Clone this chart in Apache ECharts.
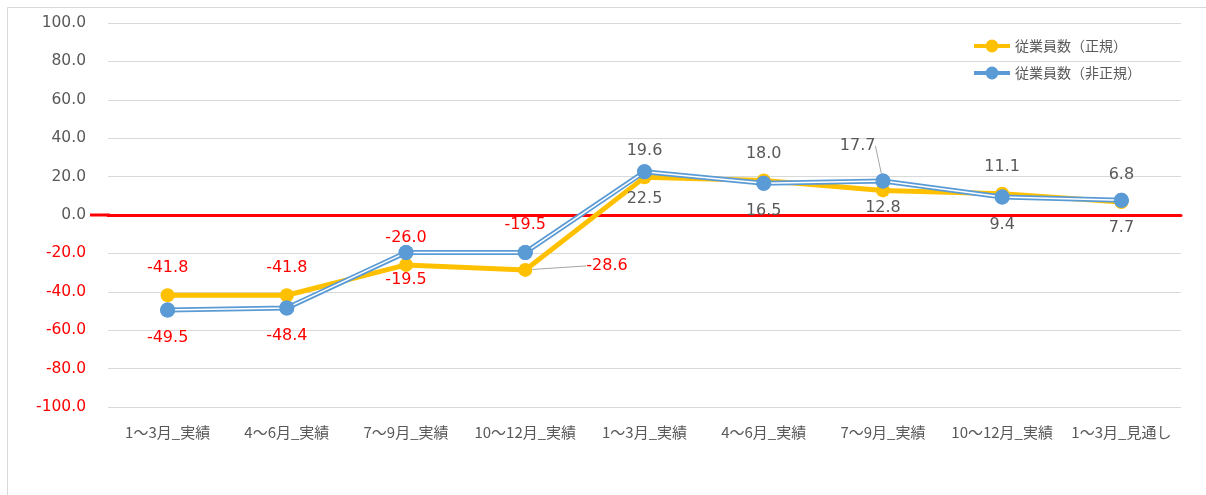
<!DOCTYPE html>
<html><head><meta charset="utf-8">
<script src="https://cdn.jsdelivr.net/npm/echarts@6/dist/echarts.min.js"></script>
<style>html,body{margin:0;padding:0;background:#fff}#c{width:1206px;height:495px}</style>
</head><body><div id="c"></div>
<script>
const categories = ['1～3月_実績','4～6月_実績','7～9月_実績','10～12月_実績','1～3月_実績','4～6月_実績','7～9月_実績','10～12月_実績','1～3月_見通し'];
const regularName = '従業員数（正規）';
const nonRegularName = '従業員数（非正規）';
const regular = [-41.8, -41.8, -26.0, -28.6, 19.6, 18.0, 12.8, 11.1, 6.8];
const nonRegular = [-49.5, -48.4, -19.5, -19.5, 22.5, 16.5, 17.7, 9.4, 7.7];
const yTicks = {min: -100, max: 100, interval: 20};

const FONT = '"Noto Sans CJK JP", "Noto Sans", sans-serif';
const NUMFONT = '"DejaVu Sans", sans-serif';
const RED = '#FF0000', GRAY = '#595959';
// label placement overrides (style only)
const regPos = ['top','top','top','right','top','top','bottom','top','top'];
const nonPos = ['bottom','bottom','bottom','top','bottom','bottom','left','bottom','bottom'];
const regLeader = 3, nonLeader = 6;

function items(vals, pos, leaderIdx) {
  return vals.map((v, i) => ({
    value: v,
    label: {position: pos[i], color: v < 0 ? RED : GRAY},
    labelLine: {show: i === leaderIdx}
  }));
}

const chart = echarts.init(document.getElementById('c'), null, {renderer: 'canvas'});
chart.setOption({
  animation: false,
  backgroundColor: '#fff',
  graphic: [{
    type: 'rect', shape: {x: 7.5, y: 7.5, width: 1240, height: 520},
    style: {fill: 'none', stroke: '#D9D9D9', lineWidth: 1}, silent: true, z: -10
  }],
  grid: {left: 108, right: 25, top: 23, bottom: 88, containLabel: false},
  legend: {
    orient: 'vertical', right: 60, top: 34, itemGap: 13,
    itemWidth: 36, itemHeight: 16,
    textStyle: {fontFamily: FONT, fontSize: 14, color: GRAY},
    data: [
      {name: regularName, lineStyle: {width: 4}},
      {name: nonRegularName, lineStyle: {width: 4}}
    ]
  },
  xAxis: {
    type: 'category', data: categories, boundaryGap: true,
    axisLine: {show: true, onZero: true, lineStyle: {color: RED, width: 3}},
    axisTick: {show: false},
    axisLabel: {interval: 0, color: GRAY, fontFamily: FONT, fontSize: 15, margin: 18}
  },
  yAxis: {
    type: 'value', min: yTicks.min, max: yTicks.max, interval: yTicks.interval,
    axisLine: {show: false}, axisTick: {show: false},
    splitLine: {lineStyle: {color: '#D9D9D9', width: 1}},
    axisLabel: {
      margin: 22, fontFamily: NUMFONT, fontSize: 15.5,
      formatter: v => v.toFixed(1),
      color: v => (Number(v) < 0 ? RED : GRAY)
    }
  },
  series: [
    {
      name: regularName, type: 'line', data: items(regular, regPos, regLeader),
      symbol: 'circle', symbolSize: 14, z: 3,
      lineStyle: {color: '#FFC000', width: 5},
      itemStyle: {color: '#FFC000'},
      label: {show: true, fontFamily: NUMFONT, fontSize: 16, distance: 12, formatter: p => p.value.toFixed(1)},
      labelLine: {show: false, lineStyle: {color: '#A6A6A6', width: 1}},
      labelLayout: p => p.dataIndex === regLeader ? {dx: 42, dy: -4}
        : (p.dataIndex === 6 ? {dy: -10} : {})
    },
    {
      name: nonRegularName, type: 'line', data: items(nonRegular, nonPos, nonLeader),
      symbol: 'circle', symbolSize: 15, z: 4,
      lineStyle: {color: '#5B9BD5', width: 5},
      itemStyle: {color: '#5B9BD5'},
      label: {show: true, fontFamily: NUMFONT, fontSize: 16, distance: 12, formatter: p => p.value.toFixed(1)},
      labelLine: {show: false, lineStyle: {color: '#A6A6A6', width: 1}},
      labelLayout: p => p.dataIndex === nonLeader ? {dx: 12, dy: -35} : {}
    },
    {
      name: '', type: 'line', data: nonRegular, z: 5, silent: true,
      symbol: 'none', lineStyle: {color: '#FFFFFF', width: 1.5}
    },
    {
      name: '_m', type: 'line', data: nonRegular, z: 6, silent: true,
      symbol: 'circle', symbolSize: 15, lineStyle: {opacity: 0},
      itemStyle: {color: '#5B9BD5'}
    }
  ]
});
// extend the red zero line slightly to the left of the plot, as in the reference
const y0 = chart.convertToPixel({yAxisIndex: 0}, 0);
chart.setOption({graphic: [{}, {
  type: 'line', shape: {x1: 90, y1: y0, x2: 110, y2: y0},
  style: {stroke: RED, lineWidth: 3}, silent: true, z: 1
}]});
</script></body></html>
